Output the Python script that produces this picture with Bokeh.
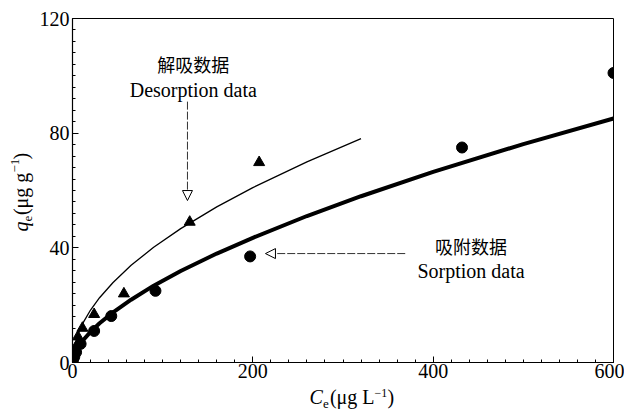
from bokeh.plotting import figure
from bokeh.models import Range1d, Label, Arrow, NormalHead, SingleIntervalTicker
from bokeh.layouts import row, column
from bokeh.embed import file_html
from bokeh.resources import INLINE
import math

# Sorption data (circles)
sorp_c = [0.5, 2, 4, 9, 24, 43, 92, 197, 432, 600]
sorp_q = [0.8, 2.0, 3.6, 6.5, 11.0, 16.2, 25.0, 37.0, 75.0, 101.0]

# Desorption data (triangles)
desorp_c = [3, 6, 11, 24, 57, 130, 207]
desorp_q = [5.0, 9.0, 12.0, 16.8, 24.0, 49.0, 69.8]

# Fitted curve values
sorp_fit_c = [0, 0.5, 1, 2, 3, 5, 8, 12, 20, 30, 45, 65, 90, 120, 160, 200, 260, 320, 400, 500, 600]
sorp_fit_q = [0, 1.13, 1.72, 2.62, 3.36, 4.59, 6.11, 7.83, 10.7, 13.7, 17.5, 21.9, 26.8, 31.9,
              38.0, 43.5, 51.1, 58.0, 66.5, 76.2, 85.1]
desorp_fit_c = [0, 0.5, 1, 2, 3, 5, 8, 12, 20, 30, 45, 65, 90, 120, 160, 200, 260, 320]
desorp_fit_q = [0, 2.64, 3.8, 5.46, 6.76, 8.83, 11.3, 14.0, 18.3, 22.6, 27.9, 33.9, 40.2, 46.7,
                54.3, 61.0, 70.0, 78.1]

SERIF = "Liberation Serif"
CJK = "Noto Sans CJK SC"

LEFT_W = 36
MAIN_W = 624 - LEFT_W
MAIN_H = 385
XT_H = 413 - MAIN_H
FRAME_L, FRAME_R = 72, 613   # canvas x of the plot frame (shared by the title strip)

p = figure(width=MAIN_W, height=MAIN_H, output_backend="svg", toolbar_location=None,
           x_range=Range1d(0, 600), y_range=Range1d(0, 120),
           min_border_left=FRAME_L - LEFT_W, min_border_right=624 - FRAME_R,
           min_border_top=18, min_border_bottom=MAIN_H - 362)
p.xgrid.visible = False
p.ygrid.visible = False
p.outline_line_color = "black"
p.outline_line_width = 1
p.background_fill_color = "white"
p.border_fill_color = "white"

p.xaxis.ticker = SingleIntervalTicker(interval=200, num_minor_ticks=10)
p.yaxis.ticker = SingleIntervalTicker(interval=40, num_minor_ticks=10)
for ax in (p.xaxis, p.yaxis):
    ax.major_tick_in = 6
    ax.major_tick_out = 0
    ax.minor_tick_in = 3
    ax.minor_tick_out = 0
    ax.axis_line_color = "black"
    ax.axis_line_width = 1.2
    ax.major_tick_line_color = "black"
    ax.minor_tick_line_color = "black"
    ax.major_label_text_font = SERIF
    ax.major_label_text_font_size = "20px"
    ax.major_label_text_color = "black"
p.xaxis.major_label_standoff = 1
p.yaxis.major_label_standoff = 3

# curves
p.line(sorp_fit_c, sorp_fit_q, line_color="black", line_width=4)
p.line(desorp_fit_c, desorp_fit_q, line_color="black", line_width=1.3)

# points
p.scatter(sorp_c, sorp_q, marker="circle", size=11, fill_color="black", line_color="black")
p.scatter(desorp_c, desorp_q, marker="triangle", size=11, fill_color="black", line_color="black")

# annotations
p.add_layout(Label(x=134, y=104.3, text="解吸数据", text_font=CJK, text_font_size="18px",
                   text_align="center", text_baseline="middle", text_color="black"))
p.add_layout(Label(x=134, y=95.0, text="Desorption data", text_font=SERIF, text_font_size="20px",
                   text_align="center", text_baseline="middle", text_color="black"))
p.add_layout(Label(x=442, y=40.8, text="吸附数据", text_font=CJK, text_font_size="18px",
                   text_align="center", text_baseline="middle", text_color="black"))
p.add_layout(Label(x=442, y=32.0, text="Sorption data", text_font=SERIF, text_font_size="20px",
                   text_align="center", text_baseline="middle", text_color="black"))

p.add_layout(Arrow(end=NormalHead(size=10, fill_color="white", line_color="black", line_width=1),
                   x_start=127.5, y_start=91, x_end=127.5, y_end=56.5,
                   line_color="#333333", line_width=1, line_dash="8 2"))
p.add_layout(Arrow(end=NormalHead(size=10, fill_color="white", line_color="black", line_width=1),
                   x_start=369, y_start=38, x_end=214, y_end=38,
                   line_color="#333333", line_width=1, line_dash="8 2"))


def blank(w, h, xr):
    f = figure(width=w, height=h, output_backend="svg", toolbar_location=None,
               x_range=xr, y_range=Range1d(0, h),
               x_axis_type=None, y_axis_type=None, min_border=0,
               min_border_left=0, min_border_right=0, min_border_top=0, min_border_bottom=0)
    f.outline_line_color = None
    f.background_fill_color = "white"
    f.border_fill_color = "white"
    return f


def lab(f, x, y, text, size="20px", style="normal", angle=0.0):
    f.add_layout(Label(x=x, y=y, text=text, text_font=SERIF, text_font_size=size,
                       text_font_style=style, text_align="center", text_baseline="middle",
                       text_color="black", angle=angle))

# x axis title: C_e(μg L^-1); strip frame aligned with main frame -> canvas x units,
# y measured up from the strip's bottom (canvas y = 413 - y)
xt = blank(MAIN_W, XT_H, Range1d(FRAME_L, FRAME_R))
lab(xt, 315.7, 413 - 396.25, "C", style="italic")
lab(xt, 325.4, 413 - 403.6, "e", size="13px")
lab(xt, 351.7, 413 - 396.25, "(μg L")
lab(xt, 380.4, 413 - 392.45, "−1", size="12px")
lab(xt, 390.3, 413 - 396.25, ")")

# y axis title: q_e(μg g^-1), rotated
yt = blank(LEFT_W, 413, Range1d(0, LEFT_W))
a = math.pi / 2
lab(yt, 20.25, 413 - 226, "q", style="italic", angle=a)
lab(yt, 27.6, 413 - 218.1, "e", size="13px", angle=a)
lab(yt, 20.25, 413 - 193.4, "(μg g", angle=a)
lab(yt, 14.6, 413 - 165.1, "−1", size="13px", angle=a)
lab(yt, 20.25, 413 - 155.7, ")", angle=a)

layout = row(yt, column(p, xt, spacing=0), spacing=0)
open("out.html", "w").write(file_html(layout, INLINE))
